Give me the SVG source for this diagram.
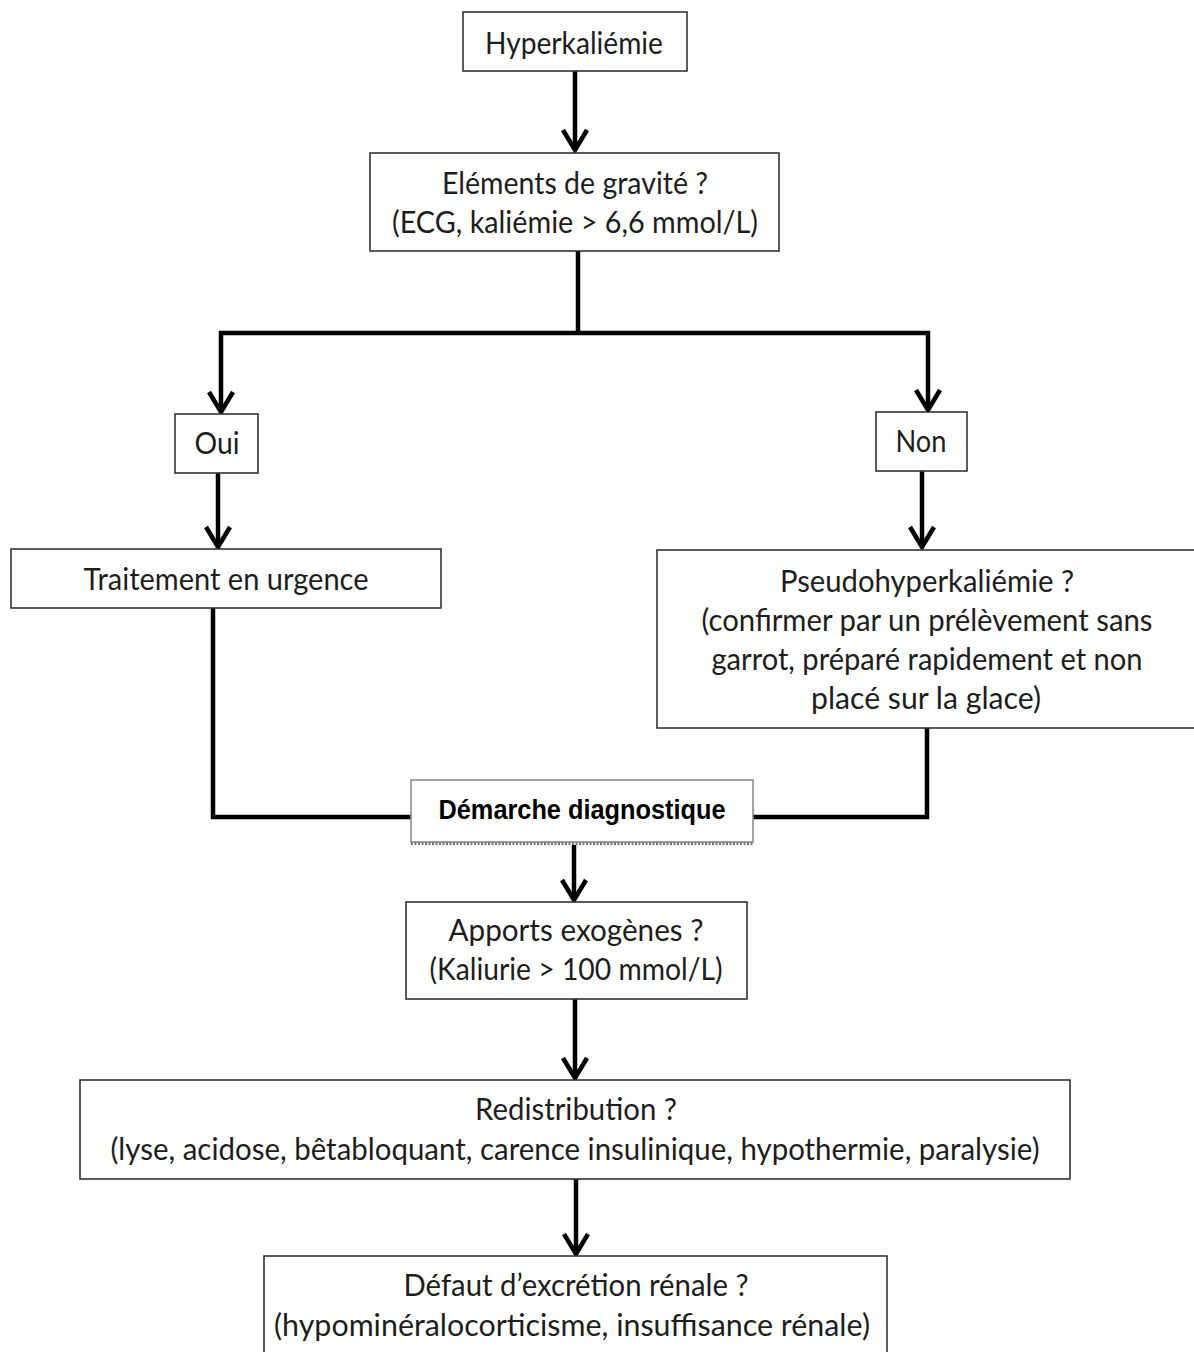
<svg xmlns="http://www.w3.org/2000/svg" width="1194" height="1352" viewBox="0 0 1194 1352">
<defs>
<style>
.box{fill:#fff;stroke:#333;stroke-width:1.6}
.t{font-family:Lato,"Open Sans","Liberation Sans",sans-serif;font-size:30px;fill:#1e1e1e;text-anchor:middle}
.b{font-family:"Liberation Sans",Arial,sans-serif;font-weight:bold;font-size:28px;fill:#000;text-anchor:middle}
.c{fill:none;stroke:#000;stroke-width:4.5;stroke-linejoin:miter}
</style>
<marker id="chev" markerUnits="userSpaceOnUse" viewBox="-26 -16 30 32" refX="0" refY="0" markerWidth="30" markerHeight="32" orient="auto">
<path d="M-20,-12 L0,0 L-20,12" fill="none" stroke="#000" stroke-width="4.5" stroke-linejoin="miter"/>
</marker>
</defs>
<rect width="1194" height="1352" fill="#fff"/>
<g id="connectors">
<line class="c" x1="575" y1="71" x2="575" y2="150" marker-end="url(#chev)"/>
<line class="c" x1="578" y1="251" x2="578" y2="333"/>
<line class="c" x1="219" y1="333" x2="930" y2="333"/>
<line class="c" x1="221" y1="331" x2="221" y2="412" marker-end="url(#chev)"/>
<line class="c" x1="928" y1="331" x2="928" y2="410" marker-end="url(#chev)"/>
<line class="c" x1="218" y1="473" x2="218" y2="547" marker-end="url(#chev)"/>
<line class="c" x1="922" y1="471" x2="922" y2="547" marker-end="url(#chev)"/>
<polyline class="c" points="213,608 213,817 411,817"/>
<polyline class="c" points="927,728 927,817 753,817"/>
<line class="c" x1="574" y1="845" x2="574" y2="900" marker-end="url(#chev)"/>
<line class="c" x1="575" y1="999" x2="575" y2="1078" marker-end="url(#chev)"/>
<line class="c" x1="576" y1="1179" x2="576" y2="1254" marker-end="url(#chev)"/>
</g>
<g id="n-hyper">
<rect class="box" x="463" y="12" width="224" height="59"/>
<text class="t" x="574" y="54" textLength="178" lengthAdjust="spacingAndGlyphs">Hyperkaliémie</text>
</g>
<g id="n-elements">
<rect class="box" x="370" y="153" width="409" height="98"/>
<text class="t" x="575" y="194" textLength="266" lengthAdjust="spacingAndGlyphs">Eléments de gravité ?</text>
<text class="t" x="575" y="233" textLength="366" lengthAdjust="spacingAndGlyphs">(ECG, kaliémie &gt; 6,6 mmol/L)</text>
</g>
<g id="n-oui">
<rect class="box" x="175" y="414" width="83" height="59"/>
<text class="t" x="217" y="454" textLength="45" lengthAdjust="spacingAndGlyphs">Oui</text>
</g>
<g id="n-non">
<rect class="box" x="876" y="412" width="91" height="59"/>
<text class="t" x="921" y="452" textLength="51" lengthAdjust="spacingAndGlyphs">Non</text>
</g>
<g id="n-traitement">
<rect class="box" x="11" y="549" width="430" height="59"/>
<text class="t" x="226" y="590" textLength="285" lengthAdjust="spacingAndGlyphs">Traitement en urgence</text>
</g>
<g id="n-pseudo">
<rect class="box" x="657" y="550" width="545" height="178"/>
<text class="t" x="927" y="592" textLength="294" lengthAdjust="spacingAndGlyphs">Pseudohyperkaliémie ?</text>
<text class="t" x="927" y="631" textLength="451" lengthAdjust="spacingAndGlyphs">(confirmer par un prélèvement sans</text>
<text class="t" x="927" y="670" textLength="431" lengthAdjust="spacingAndGlyphs">garrot, préparé rapidement et non</text>
<text class="t" x="926" y="709" textLength="230" lengthAdjust="spacingAndGlyphs">placé sur la glace)</text>
</g>
<g id="n-demarche">
<rect x="411" y="780" width="342" height="62" fill="#fff" stroke="#888" stroke-width="1.5"/>
<line x1="411" y1="843.5" x2="753" y2="843.5" stroke="#777" stroke-width="3" stroke-dasharray="2 1.5"/>
<text class="b" x="582" y="819" textLength="287" lengthAdjust="spacingAndGlyphs">Démarche diagnostique</text>
</g>
<g id="n-apports">
<rect class="box" x="406" y="902" width="341" height="97"/>
<text class="t" x="576" y="941" textLength="255" lengthAdjust="spacingAndGlyphs">Apports exogènes ?</text>
<text class="t" x="576" y="980" textLength="293" lengthAdjust="spacingAndGlyphs">(Kaliurie &gt; 100 mmol/L)</text>
</g>
<g id="n-redistribution">
<rect class="box" x="80" y="1080" width="990" height="99"/>
<text class="t" x="576" y="1120" textLength="202" lengthAdjust="spacingAndGlyphs">Redistribution ?</text>
<text class="t" x="575" y="1160" textLength="929" lengthAdjust="spacingAndGlyphs">(lyse, acidose, bêtabloquant, carence insulinique, hypothermie, paralysie)</text>
</g>
<g id="n-defaut">
<rect class="box" x="264" y="1256" width="623" height="110"/>
<text class="t" x="576" y="1296" textLength="345" lengthAdjust="spacingAndGlyphs">Défaut d’excrétion rénale ?</text>
<text class="t" x="572" y="1336" textLength="596" lengthAdjust="spacingAndGlyphs">(hypominéralocorticisme, insuffisance rénale)</text>
</g>
</svg>
